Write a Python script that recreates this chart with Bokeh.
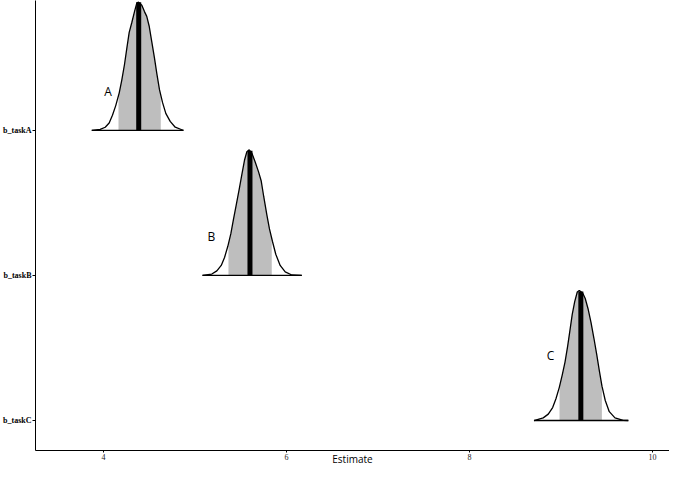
import numpy as np
from bokeh.plotting import figure
from bokeh.models import FixedTicker
from bokeh.embed import file_html
from bokeh.resources import INLINE
from bokeh.core.properties import value

# ---- data ----
terms = ["b_taskA", "b_taskB", "b_taskC"]
term_pos = [3, 2, 1]
letters = ["A", "B", "C"]
letter_x = [4.049, 5.180, 8.885]
letter_y = [3.265, 2.267, 1.449]

x_ticks = [4, 6, 8, 10]

# density outlines (x, height in axis units above the baseline)
a_x = [3.872, 3.964, 4.019, 4.062, 4.098, 4.134, 4.172, 4.200, 4.230, 4.255,
       4.281, 4.309, 4.339, 4.364, 4.383, 4.419, 4.448, 4.473, 4.499, 4.528,
       4.557, 4.583, 4.612, 4.645, 4.681, 4.729, 4.784, 4.856, 4.874]
a_h = [0.0, 0.0066, 0.0218, 0.0507, 0.105, 0.171, 0.259, 0.347, 0.456, 0.566,
       0.676, 0.742, 0.819, 0.878, 0.884, 0.863, 0.819, 0.786, 0.720, 0.610,
       0.500, 0.391, 0.281, 0.193, 0.117, 0.062, 0.022, 0.0046, 0.0]

b_x = [5.082, 5.184, 5.239, 5.287, 5.323, 5.359, 5.392, 5.421, 5.451, 5.484,
       5.512, 5.541, 5.567, 5.593, 5.621, 5.658, 5.694, 5.724, 5.752, 5.785,
       5.814, 5.847, 5.883, 5.931, 5.986, 6.058, 6.167]
b_h = [0.0, 0.0099, 0.0316, 0.0692, 0.124, 0.201, 0.288, 0.388, 0.487, 0.597,
       0.695, 0.794, 0.853, 0.866, 0.844, 0.782, 0.716, 0.651, 0.541, 0.420,
       0.321, 0.234, 0.146, 0.069, 0.025, 0.0033, 0.0]

c_x = [8.705, 8.806, 8.861, 8.909, 8.945, 8.981, 9.014, 9.044, 9.073, 9.098,
       9.123, 9.150, 9.178, 9.200, 9.237, 9.265, 9.298, 9.328, 9.360, 9.390,
       9.418, 9.448, 9.484, 9.528, 9.590, 9.681, 9.736]
c_h = [0.0, 0.018, 0.044, 0.089, 0.150, 0.227, 0.315, 0.403, 0.513, 0.622,
       0.732, 0.820, 0.886, 0.897, 0.879, 0.841, 0.765, 0.677, 0.567, 0.457,
       0.347, 0.237, 0.138, 0.061, 0.018, 0.001, 0.0]

medians = [4.385, 5.601, 9.217]
interval_lo = [4.164, 5.366, 8.984]
interval_hi = [4.626, 5.839, 9.447]

curves_x = [a_x, b_x, c_x]
curves_h = [a_h, b_h, c_h]

# ---- figure ----
p = figure(width=669, height=468, output_backend="svg", toolbar_location=None,
           x_range=(3.257, 10.186), y_range=(0.7932, 3.8956),
           min_border_left=31, min_border_right=0, min_border_top=0,
           min_border_bottom=12)
p.outline_line_color = None
p.xgrid.visible = False
p.ygrid.visible = False
p.background_fill_color = "white"

for xs, hs, base, lo, hi, med in zip(curves_x, curves_h, term_pos,
                                     interval_lo, interval_hi, medians):
    xs = np.asarray(xs, dtype=float)
    hs = np.asarray(hs, dtype=float)
    # shaded interval under the curve
    inner = (xs > lo) & (xs < hi)
    sx = np.concatenate([[lo], xs[inner], [hi]])
    sh = np.concatenate([[np.interp(lo, xs, hs)], hs[inner], [np.interp(hi, xs, hs)]])
    p.varea(x=sx, y1=np.full_like(sx, base), y2=base + sh,
            fill_color="#BEBEBE")
    # median line
    mh = np.interp(med, xs, hs)
    p.segment(x0=[med], y0=[base], x1=[med], y1=[base + mh],
              line_color="black", line_width=5, line_cap="butt")
    # outline
    p.line(xs, base + hs, line_color="black", line_width=1.3)
    p.segment(x0=[xs[0]], y0=[base], x1=[xs[-1]], y1=[base],
              line_color="black", line_width=1.3)

p.text(x=letter_x, y=letter_y, text=letters, text_font=value("Open Sans"),
       text_font_size="12px", text_align="center", text_baseline="middle",
       text_color="black")

# axes
p.xaxis.ticker = FixedTicker(ticks=x_ticks)
p.xaxis.major_label_text_font = "Liberation Serif"
p.xaxis.major_label_text_font_size = "8px"
p.xaxis.major_label_text_color = "#222222"
p.xaxis.major_tick_out = 2
p.xaxis.major_tick_in = 0
p.xaxis.minor_tick_line_color = None
p.xaxis.major_label_standoff = 1
p.xaxis.axis_line_color = "black"
p.xaxis.major_tick_line_color = "black"
p.xaxis.axis_label = "Estimate"
p.xaxis.axis_label_text_font = "Open Sans"
p.xaxis.axis_label_text_font_style = "normal"
p.xaxis.axis_label_text_font_size = "10px"
p.xaxis.axis_label_text_color = "black"
p.xaxis.axis_label_standoff = -11

p.yaxis.ticker = FixedTicker(ticks=term_pos)
p.yaxis.major_label_overrides = {pos: t for pos, t in zip(term_pos, terms)}
p.yaxis.major_label_text_font = "Liberation Serif"
p.yaxis.major_label_text_font_style = "bold"
p.yaxis.major_label_text_font_size = "8px"
p.yaxis.major_label_text_color = "black"
p.yaxis.major_tick_out = 3
p.yaxis.major_tick_in = 0
p.yaxis.minor_tick_line_color = None
p.yaxis.major_label_standoff = 1
p.yaxis.axis_line_color = "black"
p.yaxis.major_tick_line_color = "black"

open("out.html", "w").write(file_html(p, INLINE))
